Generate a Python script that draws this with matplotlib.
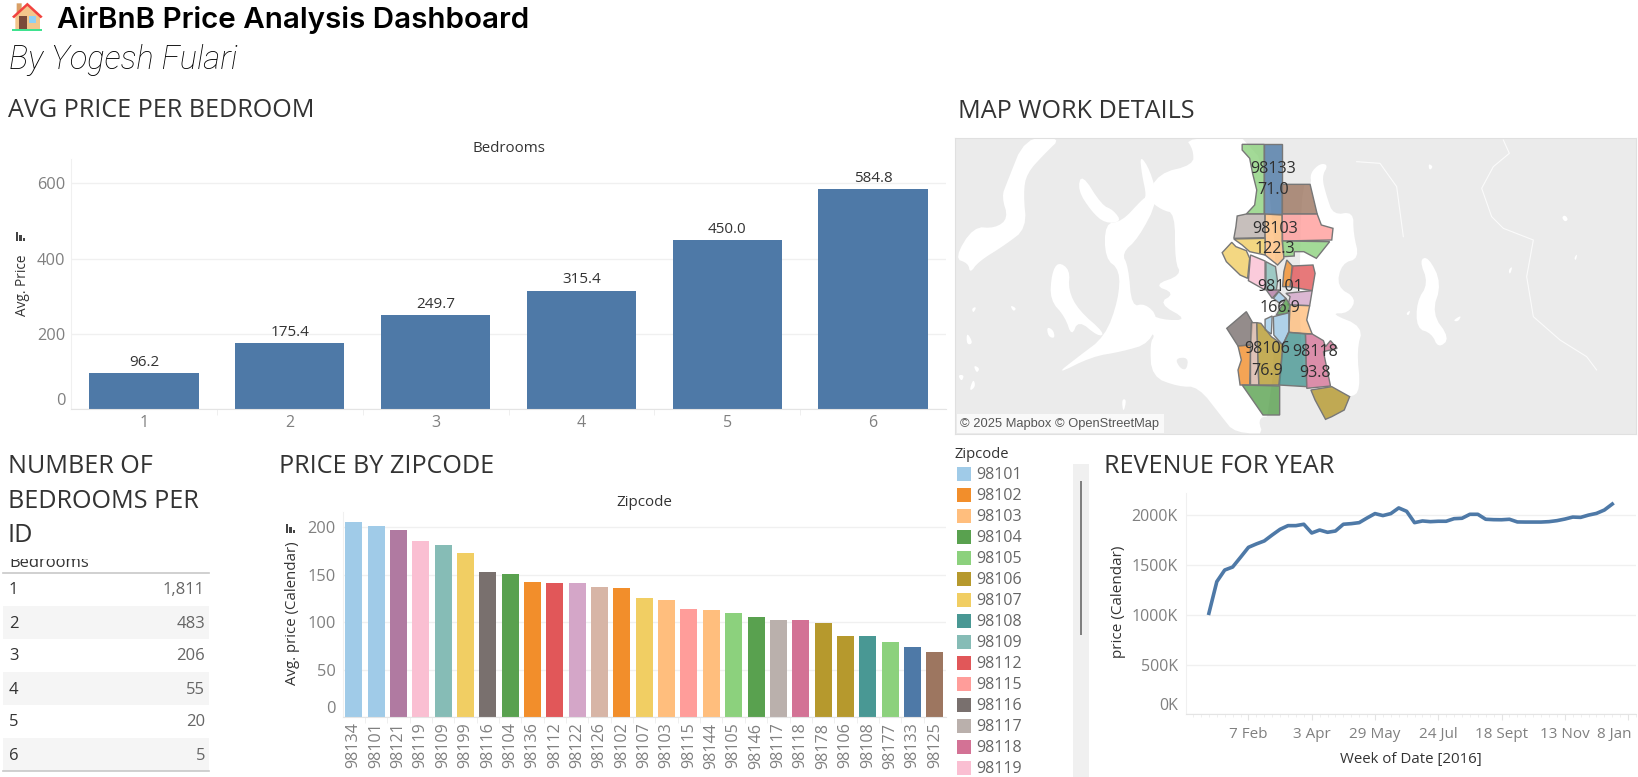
import numpy as np
import pandas as pd
import matplotlib
matplotlib.use('Agg')
import matplotlib.pyplot as plt
from matplotlib.patches import Polygon, Rectangle
from matplotlib.transforms import ScaledTranslation

plt.rcParams['font.family'] = ['Open Sans', 'DejaVu Sans']

# avg price per bedroom
bedrooms = [1, 2, 3, 4, 5, 6]
bedroom_price = [96.2, 175.4, 249.7, 315.4, 450.0, 584.8]
bedroom_ids = [1811, 483, 206, 55, 20, 5]

# price by zipcode, sorted as in the chart
zipcodes = ['98134', '98101', '98121', '98119', '98109', '98199', '98116', '98104', '98136',
            '98112', '98122', '98126', '98102', '98107', '98103', '98115', '98144', '98105',
            '98146', '98117', '98118', '98178', '98106', '98108', '98177', '98133', '98125']
zip_price = [205.6, 201.4, 197.2, 185.6, 181.3, 172.9, 152.9, 150.8, 142.3,
             141.3, 141.3, 137.0, 136.0, 125.5, 123.4, 113.9, 112.8, 109.6,
             105.4, 102.3, 102.3, 99.1, 85.4, 85.4, 79.0, 73.8, 68.5]
zip_colors = {'98101': '#A0CBE8', '98102': '#F28E2B', '98103': '#FFBE7D', '98104': '#59A14F',
              '98105': '#8CD17D', '98106': '#B6992D', '98107': '#F1CE63', '98108': '#499894',
              '98109': '#86BCB6', '98112': '#E15759', '98115': '#FF9D9A', '98116': '#79706E',
              '98117': '#BAB0AC', '98118': '#D37295', '98119': '#FABFD2', '98121': '#B07AA1',
              '98122': '#D4A6C8', '98125': '#9D7660', '98126': '#D7B5A6', '98133': '#4E79A7',
              '98134': '#A0CBE8', '98136': '#F28E2B', '98144': '#FFBE7D', '98146': '#59A14F',
              '98177': '#8CD17D', '98178': '#B6992D', '98199': '#F1CE63'}
legend_zips = ['98101', '98102', '98103', '98104', '98105', '98106', '98107', '98108',
               '98109', '98112', '98115', '98116', '98117', '98118', '98119']

# weekly revenue, in thousands
revenue = [1015, 1333, 1450, 1480, 1578, 1678, 1712, 1742, 1802, 1859, 1896, 1896, 1910,
           1822, 1852, 1829, 1842, 1910, 1916, 1926, 1973, 2017, 1997, 2017, 2074, 2040,
           1926, 1943, 1936, 1940, 1940, 1966, 1970, 2010, 2010, 1960, 1956, 1955, 1960,
           1933, 1932, 1932, 1932, 1936, 1946, 1962, 1982, 1979, 2002, 2019, 2053, 2113]
revenue_ticks = ['2016-02-07', '2016-04-03', '2016-05-29', '2016-07-24', '2016-09-18', '2016-11-13', '2017-01-08']
revenue_tick_labels = ['7 Feb', '3 Apr', '29 May', '24 Jul', '18 Sept', '13 Nov', '8 Jan']

# map shapes (outline coords, see to_px below)
zip_shapes = {
    '98177': [(790, 43), (843, 43), (843, 252), (800, 252), (820, 225), (825, 180), (815, 130), (808, 85), (790, 60)],
    '98133': [(843, 43), (886, 43), (886, 252), (843, 252)],
    '98125': [(886, 163), (953, 163), (970, 252), (886, 252)],
    '98117': [(778, 258), (800, 252), (845, 252), (845, 323), (770, 325), (775, 290)],
    '98103': [(845, 252), (886, 255), (890, 385), (875, 405), (845, 375)],
    '98115': [(886, 252), (970, 252), (980, 285), (1008, 295), (1005, 330), (886, 333)],
    '98105': [(886, 333), (1000, 335), (968, 385), (938, 365), (915, 365), (915, 378), (890, 380)],
    '98107': [(770, 327), (845, 325), (845, 375), (808, 365), (790, 345)],
    '98199': [(765, 337), (742, 368), (752, 395), (785, 435), (803, 445), (808, 385), (800, 362), (775, 350)],
    '98119': [(810, 375), (845, 393), (845, 480), (805, 452)],
    '98109': [(847, 395), (870, 410), (875, 455), (872, 480), (847, 480)],
    '98102': [(897, 390), (912, 410), (905, 470), (887, 470), (890, 425)],
    '98112': [(910, 408), (960, 405), (965, 430), (958, 482), (905, 470)],
    '98122': [(895, 490), (958, 482), (952, 527), (900, 525), (905, 500)],
    '98121': [(848, 480), (880, 480), (862, 505)],
    '98101': [(878, 485), (895, 505), (880, 520), (865, 505)],
    '98144': [(905, 525), (952, 527), (945, 570), (958, 612), (902, 607)],
    '98104': [(895, 505), (905, 525), (900, 550), (872, 555)],
    '98134': [(845, 568), (862, 558), (860, 612), (845, 600)],
    '98108b': [(865, 560), (902, 548), (902, 605), (887, 645), (866, 615)],
    '98116': [(800, 545), (815, 578), (810, 645), (780, 648), (753, 595)],
    '98126': [(812, 578), (825, 578), (830, 765), (810, 765), (810, 650)],
    '98106': [(825, 578), (835, 580), (860, 620), (888, 645), (880, 765), (830, 765)],
    '98136': [(780, 648), (810, 645), (808, 765), (785, 765), (780, 720), (788, 690)],
    '98108': [(888, 645), (902, 607), (942, 612), (945, 770), (878, 765)],
    '98118': [(942, 612), (958, 612), (985, 632), (990, 650), (1002, 632), (1018, 655), (985, 665), (1002, 768), (945, 775)],
    '98146': [(790, 765), (880, 768), (880, 855), (840, 855), (815, 810)],
    '98178': [(955, 780), (1005, 770), (1048, 800), (1035, 840), (1005, 860), (990, 868), (965, 810)],
}
map_labels = [('98133', 865, 117), ('71.0', 863, 180), ('98103', 868, 296), ('122.3', 868, 358),
              ('98101', 880, 470), ('166.9', 880, 533), ('98106', 850, 658), ('76.9', 850, 722),
              ('98118', 966, 665), ('93.8', 965, 728)]
water_west = [
    [(240, 22), (350, 22), (300, 70), (245, 130), (235, 190), (245, 295), (180, 345), (100, 395), (75, 430), (70, 400), (28, 385), (85, 290), (150, 295), (190, 265), (170, 200), (185, 160)],
    [(720, 22), (990, 22), (990, 910), (870, 910), (830, 860), (760, 770), (700, 770), (620, 740), (615, 640), (630, 615), (610, 610), (600, 545), (650, 570), (730, 570), (640, 520), (690, 490), (625, 465), (710, 435), (690, 395), (690, 250), (650, 240), (605, 205), (640, 130), (745, 105), (745, 60)],
    [(410, 130), (470, 225), (505, 240), (530, 275), (480, 280), (440, 245), (398, 180)],
    [(480, 280), (530, 275), (590, 210), (605, 200), (590, 130), (585, 75), (615, 120), (640, 210), (580, 325), (530, 370), (550, 410), (560, 530), (600, 520), (640, 560), (615, 640), (530, 665), (440, 680), (330, 735), (400, 680), (480, 620), (520, 510), (525, 420), (480, 385)],
    [(340, 395), (375, 420), (370, 480), (400, 540), (480, 610), (460, 620), (400, 570), (380, 620), (360, 560), (315, 510), (320, 430)],
    [(305, 590), (325, 600), (330, 625), (310, 620)], [(195, 525), (215, 535), (205, 545)],
    [(80, 535), (95, 530), (85, 550)], [(65, 605), (85, 640), (65, 645)], [(85, 705), (105, 715), (95, 730)],
    [(38, 735), (58, 735), (50, 755)], [(85, 745), (92, 770), (72, 785)], [(530, 808), (545, 808), (535, 850)],
]
land_islands = [[(690, 685), (730, 682), (725, 720), (705, 715)], [(990, 860), (940, 860), (950, 910), (990, 910)]]
water_east = [
    [(30, 130), (60, 100), (85, 105), (65, 140), (80, 200), (100, 255), (160, 245), (160, 310), (178, 385), (125, 400), (110, 470), (170, 505), (145, 550), (90, 550), (190, 590), (170, 660), (182, 780), (150, 805), (95, 770), (0, 790), (0, 165), (35, 165)],
    [(358, 390), (385, 380), (425, 460), (395, 550), (450, 625), (415, 655), (395, 610), (350, 595), (350, 515), (385, 460)],
    [(385, 100), (400, 110), (388, 122)], [(785, 262), (795, 255), (805, 268), (795, 276)],
    [(318, 550), (332, 540), (325, 558)], [(458, 572), (485, 555), (475, 575)], [(625, 420), (638, 408), (630, 435)],
    [(822, 385), (832, 370), (828, 392)],
]
river_east = [(610, 30), (628, 70), (580, 110), (545, 175), (575, 260), (610, 295), (700, 330), (680, 440), (700, 560), (780, 630), (860, 680), (890, 720)]
river_east2 = [(170, 95), (240, 100), (290, 170), (310, 320)]

TEXT = '#333333'
GREY = '#808080'
GRID = '#f0f0f0'
BLUE = '#4E79A7'
LAND = '#ebebeb'

W, H = 1638, 777
fig = plt.figure(figsize=(W / 100, H / 100), dpi=100, facecolor='white')

# whole-figure axes in pixels, for titles, table, legend
bg = fig.add_axes([0, 0, 1, 1])
bg.set_xlim(0, W)
bg.set_ylim(H, 0)
bg.axis('off')


def ax_px(left, top, right, bottom):
    return fig.add_axes([left / W, 1 - bottom / H, (right - left) / W, (bottom - top) / H], facecolor='none')


def to_px(points, x0, y0, sx, sy=3.0):
    pts = np.array(points, dtype=float)
    return np.column_stack([x0 + pts[:, 0] / sx, y0 + pts[:, 1] / sy])


def soften(pts, rounds=2):
    # corner cutting so the traced coast doesn't look like a polygon
    for _ in range(rounds):
        nxt = np.roll(pts, -1, axis=0)
        pts = np.column_stack([0.75 * pts + 0.25 * nxt, 0.25 * pts + 0.75 * nxt]).reshape(-1, 2)
    return pts


def style_axes(ax):
    for s in ['top', 'right']:
        ax.spines[s].set_visible(False)
    ax.spines['left'].set_color(GRID)
    ax.spines['bottom'].set_color('#e4e4e4')
    ax.grid(axis='y', color=GRID, lw=1)
    ax.set_axisbelow(True)


def sort_icon(x, y):
    # little sort glyph next to a rotated axis title
    for i, h in enumerate([9, 6, 3]):
        bg.add_patch(Rectangle((x + i * 3.4, y + 9 - h), 2.2, h, color='#444444', lw=0))


# header
bg.add_patch(Polygon(to_px([(50, 10), (65, 10), (65, 35), (50, 45)], 0, 0, 3), color='#d9a066', lw=0))
bg.add_patch(Polygon(to_px([(46, 48), (82, 14), (120, 48), (120, 88), (46, 88)], 0, 0, 3), color='#f3c68c', lw=0))
bg.add_patch(Polygon(to_px([(36, 50), (82, 8), (128, 50), (122, 55), (82, 18), (42, 55)], 0, 0, 3), color='#f2433f', lw=0))
bg.add_patch(Polygon(to_px([(56, 48), (82, 48), (82, 86), (56, 86)], 0, 0, 3), color='#7a4a3a', lw=0))
bg.add_patch(Polygon(to_px([(88, 48), (108, 48), (108, 70), (88, 70)], 0, 0, 3), color='#8fd0f5', lw=0))
bg.add_patch(Polygon(to_px([(36, 86), (127, 86), (127, 92), (36, 92)], 0, 0, 3), color='#3fe28f', lw=0))
bg.text(57, 28, 'AirBnB Price Analysis Dashboard', fontsize=21.3, fontweight='semibold',
        family=['Inter', 'DejaVu Sans'], color='black', va='baseline')
bg.text(9, 69, 'By Yogesh Fulari', fontsize=23.5, fontstyle='italic', fontweight='light',
        family=['Roboto', 'DejaVu Sans'], color='black', va='baseline')

# panel titles
for label, x, y in [('AVG PRICE PER BEDROOM', 8, 117), ('MAP WORK DETAILS', 958, 118),
                    ('NUMBER OF', 8, 473), ('BEDROOMS PER', 8, 508), ('ID', 8, 542),
                    ('PRICE BY ZIPCODE', 279, 473), ('REVENUE FOR YEAR', 1104, 473)]:
    bg.text(x, y, label, fontsize=18.1, color=TEXT, va='baseline')

# avg price per bedroom
ax1 = ax_px(71, 159, 946, 409.3)
ax1.bar(bedrooms, bedroom_price, width=0.75, color=BLUE)
for b, v in zip(bedrooms, bedroom_price):
    ax1.text(b, v + 9, f'{v:.1f}', ha='center', va='bottom', fontsize=11, color=TEXT)
ax1.set_xlim(0.5, 6.5)
ax1.set_ylim(0, 665)
ax1.set_yticks([0, 200, 400, 600])
ax1.set_xticks(bedrooms)
ax1.set_xticks(np.arange(1.5, 6.5), minor=True)
style_axes(ax1)
ax1.tick_params(axis='y', length=0, labelsize=11.8, labelcolor=GREY, pad=4)
ax1.tick_params(axis='x', length=0, labelsize=11.5, labelcolor=GREY, pad=4)
ax1.tick_params(axis='x', which='minor', length=4, color='#ececec')
ax1.get_yticklabels()[0].set_verticalalignment('bottom')
bg.text(508.7, 148, 'Bedrooms', fontsize=10.8, color=TEXT, ha='center', va='center')
bg.text(23, 285, 'Avg. Price', fontsize=9.8, color=TEXT, rotation=90, ha='center', va='center')
sort_icon(16, 232)

# number of bedrooms table
t = bg.text(9, 567, 'Bedrooms', fontsize=12, color=TEXT, va='baseline')
t.set_clip_path(Rectangle((0, 558.5), 210, 14, transform=bg.transData))
t.set_clip_on(True)
bg.plot([3, 209], [572.5, 572.5], color='#c8c8c8', lw=1.2)
for i, (b, n) in enumerate(zip(bedrooms, bedroom_ids)):
    top = 572.5 + i * 33
    if i % 2 == 1:
        bg.add_patch(Rectangle((3, top), 206, 33, color='#f5f5f5', lw=0))
    bg.text(9, top + 18, str(b), fontsize=12, color=TEXT, va='center')
    bg.text(205, top + 18, f'{n:,}', fontsize=12, color='#666666', va='center', ha='right')
bg.plot([3, 209], [770.5, 770.5], color='#c8c8c8', lw=1.2)

# price by zipcode
ax2 = ax_px(342.5, 512.3, 946, 717)
pos = np.arange(len(zipcodes))
ax2.bar(pos, zip_price, width=0.76, color=[zip_colors[z] for z in zipcodes])
ax2.set_xlim(-0.5, len(zipcodes) - 0.5)
ax2.set_ylim(0, 215.8)
ax2.set_yticks([0, 50, 100, 150, 200])
ax2.set_xticks(pos)
ax2.set_xticklabels(zipcodes, rotation=90)
ax2.set_xticks(pos[:-1] + 0.5, minor=True)
style_axes(ax2)
ax2.tick_params(axis='y', length=0, labelsize=11.8, labelcolor=GREY, pad=5)
ax2.tick_params(axis='x', length=0, labelsize=11.6, labelcolor=GREY, pad=4)
ax2.tick_params(axis='x', which='minor', length=4, color='#ececec')
ax2.get_yticklabels()[0].set_verticalalignment('bottom')
bg.text(644.6, 503, 'Zipcode', fontsize=10.9, color=TEXT, ha='center', va='center')
bg.text(293, 613, 'Avg. price (Calendar)', fontsize=10.8, color=TEXT, rotation=90, ha='center', va='center')
sort_icon(286, 524)

# legend
bg.text(954.5, 457.5, 'Zipcode', fontsize=10.6, color=TEXT, va='baseline')
for i, z in enumerate(legend_zips):
    top = 467.3 + 21 * i
    bg.add_patch(Rectangle((957, top), 14, 14, color=zip_colors[z], lw=0))
    bg.text(976.3, top + 8, z, fontsize=11.5, color='#666666', va='center')

# legend scrollbar
bg.add_patch(Rectangle((1073, 464), 16, H - 464, color='#f0f0f0', lw=0))
bg.add_patch(Rectangle((1080, 481), 2.2, 154, color='#808080', lw=0))

# revenue for year
weeks = pd.date_range('2016-01-03', periods=len(revenue), freq='7D')
ax3 = ax_px(1186.3, 492.7, 1636, 714.3)
ax3.plot(weeks, revenue, color=BLUE, lw=2.6, solid_joinstyle='round')
ax3.set_xlim(pd.Timestamp('2015-12-14'), pd.Timestamp('2017-01-15'))
ax3.set_ylim(0, 2227)
ax3.set_yticks([0, 500, 1000, 1500, 2000])
ax3.set_yticklabels(['0K', '500K', '1000K', '1500K', '2000K'])
ax3.set_xticks(pd.to_datetime(revenue_ticks))
ax3.set_xticklabels(revenue_tick_labels)
ax3.set_xticks(pd.date_range('2015-12-20', '2017-01-15', freq='7D'), minor=True)
style_axes(ax3)
ax3.tick_params(axis='y', length=0, labelsize=11.5, labelcolor=GREY, pad=6)
ax3.tick_params(axis='x', length=4, color='#e4e4e4', labelsize=11, labelcolor=GREY, pad=5)
ax3.tick_params(axis='x', which='minor', length=2, color='#ececec')
ax3.get_yticklabels()[0].set_verticalalignment('bottom')
last = ax3.get_xticklabels()[-1]
last.set_horizontalalignment('right')
last.set_transform(last.get_transform() + ScaledTranslation(3 / 100, 0, fig.dpi_scale_trans))
bg.text(1119, 602, 'price (Calendar)', fontsize=11, color=TEXT, rotation=90, ha='center', va='center')
bg.text(1411, 760, 'Week of Date [2016]', fontsize=10.8, color=TEXT, ha='center', va='center')

# map
ax4 = ax_px(954.5, 137.5, 1636, 433.5)
ax4.set_xlim(954.5, 1636)
ax4.set_ylim(433.5, 137.5)
ax4.set_facecolor(LAND)
ax4.set_xticks([])
ax4.set_yticks([])
for s in ax4.spines.values():
    s.set_color('#e0e0e0')
for shape in water_west:
    ax4.add_patch(Polygon(soften(to_px(shape, 945, 130, 3)), color='white', lw=0))
for shape in land_islands:
    ax4.add_patch(Polygon(soften(to_px(shape, 945, 130, 3)), color=LAND, lw=0))
for shape in water_east:
    ax4.add_patch(Polygon(soften(to_px(shape, 1300, 130, 3)), color='white', lw=0))
for river in [river_east, river_east2]:
    r = to_px(river, 1300, 130, 3)
    ax4.plot(r[:, 0], r[:, 1], color='white', lw=0.8, alpha=0.8)
for name, shape in zip_shapes.items():
    c = zip_colors[name[:5]]
    if name == '98108b':
        c = zip_colors['98101']
    ax4.add_patch(Polygon(to_px(shape, 913, 130, 2.4), facecolor=matplotlib.colors.to_rgba(c, 0.8),
                          edgecolor='#777777', lw=1.0))
for label, x, y in map_labels:
    p = to_px([(x, y)], 913, 130, 2.4)[0]
    ax4.text(p[0], p[1], label, fontsize=11.6, color='#2f2f2f', ha='center', va='center')
ax4.add_patch(Rectangle((957, 414), 207, 18.5, color='white', alpha=0.7, lw=0))
ax4.text(960, 423.5, '© 2025 Mapbox © OpenStreetMap', fontsize=9.3, color='#555555', va='center',
         family=['Liberation Sans', 'DejaVu Sans'])

fig.savefig('out.png', dpi=100)
